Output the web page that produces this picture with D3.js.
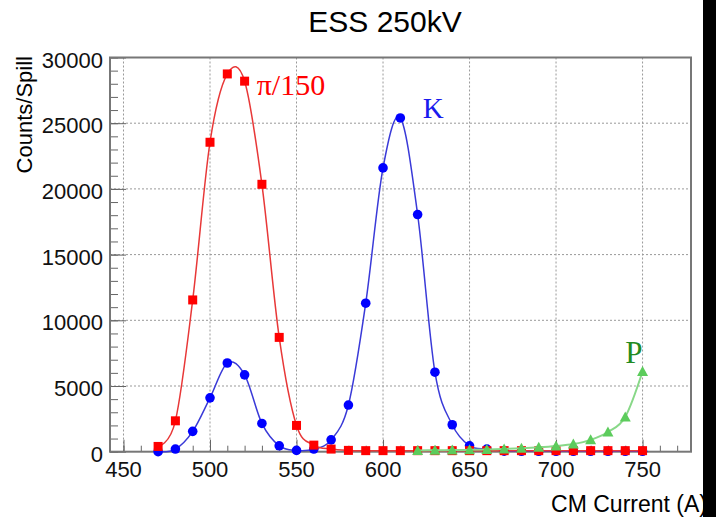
<!DOCTYPE html>
<html>
<head>
<meta charset="utf-8">
<script src="https://cdn.jsdelivr.net/npm/d3@7"></script>
<style>
  body { margin: 0; background: #fff; }
  svg { display: block; }
  .tick-label { font-family: "Liberation Sans", Arial, sans-serif; font-size: 22px; fill: #111; }
</style>
</head>
<body>
<svg width="716" height="517"></svg>
<script>
// CM current settings (A)
let currents = [470, 480, 490, 500, 510, 520, 530, 540, 550, 560, 570, 580, 590, 600, 610,
                620, 630, 640, 650, 660, 670, 680, 690, 700, 710, 720, 730, 740, 750];

// pi / 150
let pionCounts = [400, 2350, 11550, 23550, 28750, 28200, 20350, 8700, 2000, 500, 200, 100, 80, 80, 80,
                  80, 80, 80, 80, 80, 80, 80, 80, 80, 80, 80, 80, 80, 80];

// K
let kaonCounts = [0, 200, 1550, 4100, 6750, 5850, 2150, 450, 100, 200, 900, 3550, 11300, 21600, 25400,
                  18050, 6050, 2050, 450, 200, 40, 30, 30, 30, 30, 30, 30, 30, 30];

// P (only measured from 620 A)
let protonCurrents = [620, 630, 640, 650, 660, 670, 680, 690, 700, 710, 720, 730, 740, 750];
let protonCounts = [100, 110, 120, 140, 170, 210, 260, 330, 430, 580, 900, 1500, 2650, 6100];

let xTicks = [450, 500, 550, 600, 650, 700, 750];
let yTicks = [0, 5000, 10000, 15000, 20000, 25000, 30000];

let margin = {top: 57.5, right: 25, bottom: 65, left: 110},
    width = 691 - margin.left,
    height = 451.7 - margin.top;

var svg = d3.select("svg");

var g = svg.append("g")
    .attr("transform", `translate(${margin.left},${margin.top})`);

var x = d3.scaleLinear().domain([442.2, 778]).range([0, width]);
var y = d3.scaleLinear().domain([0, 30000]).range([height, 0]);

// grid
g.selectAll(".vgrid")
    .data(xTicks)
    .enter()
    .append("line")
    .attr("x1", d => x(d)).attr("x2", d => x(d))
    .attr("y1", 0).attr("y2", height)
    .attr("stroke", "#999").attr("stroke-width", 1)
    .attr("stroke-dasharray", "2,2");
g.selectAll(".hgrid")
    .data(yTicks.slice(1, -1))
    .enter()
    .append("line")
    .attr("x1", 0).attr("x2", width)
    .attr("y1", d => y(d)).attr("y2", d => y(d))
    .attr("stroke", "#999").attr("stroke-width", 1)
    .attr("stroke-dasharray", "2,2");

// axes (ROOT style: ticks inside the frame)
let xMinor = d3.range(450, 780, 10);
let yMinor = d3.range(0, 30001, 1000);

g.append("g")
    .attr("transform", `translate(0,${height})`)
    .call(d3.axisTop(x).tickValues(xMinor).tickSize(6).tickFormat(""))
    .call(a => a.select(".domain").remove())
    .selectAll("line").attr("stroke", "#666");
g.append("g")
    .attr("transform", `translate(0,${height})`)
    .call(d3.axisTop(x).tickValues(xTicks).tickSize(12).tickFormat(""))
    .call(a => a.select(".domain").remove())
    .selectAll("line").attr("stroke", "#666");
g.append("g")
    .call(d3.axisRight(y).tickValues(yMinor).tickSize(8).tickFormat(""))
    .call(a => a.select(".domain").remove())
    .selectAll("line").attr("stroke", "#666");
g.append("g")
    .call(d3.axisRight(y).tickValues(yTicks).tickSize(16).tickFormat(""))
    .call(a => a.select(".domain").remove())
    .selectAll("line").attr("stroke", "#666");

// frame
g.append("rect")
    .attr("width", width).attr("height", height)
    .attr("fill", "none").attr("stroke", "#777").attr("stroke-width", 2);

// tick labels
g.selectAll(".xlab")
    .data(xTicks)
    .enter()
    .append("text")
    .attr("class", "tick-label")
    .attr("x", d => x(d))
    .attr("y", height + 25)
    .attr("text-anchor", "middle")
    .text(d => d);
g.selectAll(".ylab")
    .data(yTicks)
    .enter()
    .append("text")
    .attr("class", "tick-label")
    .attr("x", -7)
    .attr("y", d => y(d) + 10)
    .attr("text-anchor", "end")
    .text(d => d);

// axis titles
svg.append("text")
    .attr("x", 707)
    .attr("y", 512)
    .attr("text-anchor", "end")
    .style("font-family", "Liberation Sans, Arial, sans-serif")
    .style("font-size", "23px")
    .text("CM Current (A)");
svg.append("text")
    .attr("transform", "translate(32,56) rotate(-90)")
    .attr("text-anchor", "end")
    .style("font-family", "Liberation Sans, Arial, sans-serif")
    .style("font-size", "22px")
    .text("Counts/Spill");

// title
svg.append("text")
    .attr("x", 385)
    .attr("y", 32)
    .attr("text-anchor", "middle")
    .style("font-family", "Liberation Sans, Arial, sans-serif")
    .style("font-size", "30px")
    .text("ESS 250kV");

let line = d3.line()
    .x(d => x(d[0]))
    .y(d => y(d[1]))
    .curve(d3.curveCatmullRom.alpha(0));

let pion = currents.map((c, i) => [c, pionCounts[i]]);
let kaon = currents.map((c, i) => [c, kaonCounts[i]]);
let proton = protonCurrents.map((c, i) => [c, protonCounts[i]]);

// K
g.append("path").datum(kaon)
    .attr("d", line).attr("fill", "none")
    .attr("stroke", "#3a3ad8").attr("stroke-width", 1.5);
g.selectAll(".kaon")
    .data(kaon)
    .enter()
    .append("circle")
    .attr("cx", d => x(d[0]))
    .attr("cy", d => y(d[1]))
    .attr("r", 4.8)
    .attr("fill", "#0000ff");

// pi/150
g.append("path").datum(pion)
    .attr("d", line).attr("fill", "none")
    .attr("stroke", "#e83838").attr("stroke-width", 1.5);
g.selectAll(".pion")
    .data(pion)
    .enter()
    .append("rect")
    .attr("x", d => x(d[0]) - 4.5)
    .attr("y", d => y(d[1]) - 4.5)
    .attr("width", 9).attr("height", 9)
    .attr("fill", "#ff0000");

// P
g.append("path").datum(proton)
    .attr("d", line).attr("fill", "none")
    .attr("stroke", "#88d888").attr("stroke-width", 2);
g.selectAll(".proton")
    .data(proton)
    .enter()
    .append("path")
    .attr("transform", d => `translate(${x(d[0])},${y(d[1])})`)
    .attr("d", "M0,-5.5L5.5,4.5L-5.5,4.5Z")
    .attr("fill", "#5ccc5c");

// particle labels
let serif = "Liberation Serif, Times New Roman, serif";
g.append("text")
    .attr("x", x(527)).attr("y", 95 - margin.top)
    .style("font-family", serif).style("font-size", "30px")
    .attr("fill", "#ff0000").text("π/150");
g.append("text")
    .attr("x", x(623)).attr("y", 118 - margin.top)
    .style("font-family", serif).style("font-size", "29px")
    .attr("fill", "#1a1aee").text("K");
g.append("text")
    .attr("x", x(740)).attr("y", 363 - margin.top)
    .style("font-family", serif).style("font-size", "31px")
    .attr("fill", "#228b22").text("P");

// black strip at the right edge
svg.append("rect")
    .attr("x", 703).attr("y", 0)
    .attr("width", 13).attr("height", 517)
    .attr("fill", "#000");
</script>
</body>
</html>
